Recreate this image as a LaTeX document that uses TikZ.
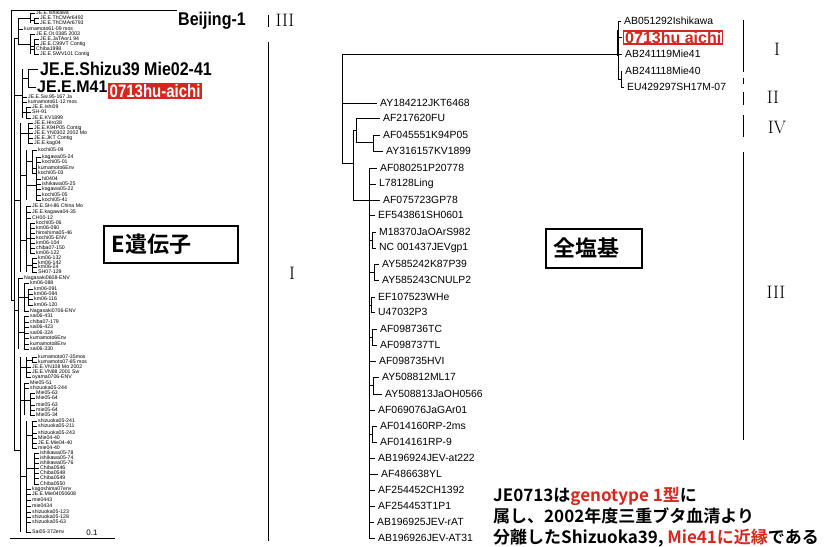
\documentclass[tikz,border=0pt]{standalone}
\usepackage{fontspec}
\newfontfamily\arial{Liberation Sans}
\newfontfamily\jpfont{Noto Sans CJK JP}[BoldFont={Noto Sans CJK JP Bold}]
\definecolor{markred}{RGB}{214,38,30}
\tikzset{
	branch/.style={line width=0.7pt},
	groupbar/.style={line width=0.9pt},
	tinylabel/.style={anchor=west, inner sep=0pt, font=\arial\fontsize{5.2}{5}\selectfont},
	leaflabel/.style={anchor=west, inner sep=0pt, font=\arial\fontsize{10.4}{12}\selectfont},
	biglabel/.style={anchor=west, inner sep=0pt, font=\arial\bfseries\fontsize{16}{18}\selectfont},
	roman/.style={inner sep=0pt, font=\fontsize{18}{20}\selectfont},
	titlebox/.style={draw, line width=1.6pt, anchor=north west, align=left, inner xsep=8pt,
		font=\jpfont\bfseries\fontsize{22}{24}\selectfont},
	notetext/.style={anchor=base west, inner sep=0pt, font=\jpfont\bfseries\fontsize{17}{20}\selectfont}
}
\begin{document}
\begin{tikzpicture}[x=1pt,y=-1pt]
	\useasboundingbox (0,0) rectangle (826,546);

	% E gene tree: vertical lines
	\foreach \x/\ya/\yb in {11/10/300, 14/38/450, 18/18/44, 30/13/23, 34/18/23, 30/34/54, 34/39/54,
			22/69/118, 28/69/87, 26/107/118, 20/123/272, 28/123/143, 26/150/200, 32/150/173, 36/157/200,
			26/206/272, 30/223/253, 32/258/272, 18/278/349, 24/283/311, 28/289/305, 24/316/349,
			20/357/532, 26/357/377, 32/357/362, 24/383/415, 30/393/415, 26/421/532, 32/421/448, 34/453/484} {
			\draw[branch] (\x,\ya) -- (\x,\yb);
		}

	% E gene tree: inner branches
	\foreach \y/\xa/\xb in {300/11/14, 38/14/18, 18/18/30, 20.5/30/34, 44/18/30, 46/30/34, 95/14/22, 78/22/28,
			112/22/26, 200/14/20, 133/20/28, 175/20/26, 161/26/32, 185/26/36, 240/20/26, 238/26/30, 265/26/32,
			310/14/18, 297/18/28, 332/18/24, 450/14/20, 367/20/26, 360/26/32, 400/20/30, 476/20/26,
			435/26/32, 468/26/34} {
			\draw[branch] (\xa,\y) -- (\xb,\y);
		}

	% E gene tree: leaves
	\foreach \y/\a/\t [count=\i] in {13/30/JE.E.Ishikawa, 18/34/JE.E.ThCMAr6492, 23/34/JE.E.ThCMAr6793,
			29/18/kumamoto61-09 mos, 34/30/JE.E.Ot.0385 2003, 39/34/JE.E.JaTAor1 94, 44/34/JE.E.C99VT Contig,
			49/30/Chiba1998, 54/34/JE.E.SWV101 Contig, 97/22/JE.E.Sw.95-167 Ja, 102/22/kumamoto61-12 mos,
			107/26/JE.E.Ishi09, 112/26/SH-91, 118/26/JE.E.KV1899, 123/28/JE.E.Hiro38, 128/28/JE.E.K94P05 Contig,
			133/28/JE.E.YN0302 2002 Mo, 138/28/JE.E.JKT Contig, 143/28/JE.E.kag04, 150/32/kochi05-09,
			157/36/kagawa05-24, 162/36/kochi05-01, 168/32/kumamoto6Env, 173/32/kochi05-03, 179/36/hi0404,
			184/36/ishikawa05-25, 189/36/kagawa05-22, 195/36/kochi05-05, 200/36/kochi05-41,
			206/26/JE.E.SH-86 China Mo, 212/26/JE.E.kagawa04-35, 218/26/CH00-12, 223/30/kochi05-06,
			228/30/km06-090, 233/30/hiroshima05-46, 238/30/kochi05-ENV, 243/30/km06-104, 248/30/chiba07-150,
			253/30/km06-122, 258/32/km06-132, 263/32/km06-142, 267/32/km06-24, 272/32/SH07-129,
			278/18/Nagasaki0608-ENV, 283/24/km06-088, 289/28/km06-091, 294/28/km06-094, 299/28/km06-116,
			305/28/km06-120, 311/24/Nagasaki0706-ENV, 316/24/sai06-431, 322/24/chiba07-179, 327/24/sai06-423,
			333/24/sai06-324, 338/24/kumamoto6Env, 344/24/kumamoto8Env, 349/24/sai06-330,
			357/32/kumamoto07-35mos, 362/32/kumamoto07-85 mos, 367/26/JE.E.VN108 Mo 2002,
			372/26/JE.E.VN88 2001 Sw, 377/26/oyama0706-ENV, 383/24/Mie05-51, 388/24/shizuoka05-244,
			393/30/Mie05-63, 398/30/Mie05-64, 405/30/mie05-63, 410/30/mie05-64, 415/30/Mie05-34,
			421/32/shizuoka05-241, 426/32/shizuoka05-211, 433/32/shizuoka05-243, 438/32/Mie04-40,
			443/32/JE.E.Mie04-40, 448/32/mie04-40, 453/34/ishikawa05-78, 458/34/ishikawa05-74,
			463/34/ishikawa05-76, 468/34/Chiba0546, 473/34/Chiba0548, 478/34/Chiba0549, 484/34/Chiba0550,
			489/26/kagoshima07env, 494/26/JE.E.Mie04050608, 500/26/mie0443, 506/26/mie0434,
			512/26/shizuoka05-123, 517/26/shizuoka05-128, 522/26/shizuoka05-63, 532/26/Sai05-372env} {
			\draw[branch] (\a,\y) -- (\a+5,\y);
			\node[tinylabel] (e\i) at (\a+6,\y) {\t};
		}

	% E gene tree: outgroup and the strains in question
	\draw[branch] (11,10) -- (177,10);
	\node[biglabel] (beijing) at (178,21) {\scalebox{1}[1.15]{Beijing-1}};
	\draw[branch] (28,69) -- (38,69);
	\draw[branch] (28,87) -- (36,87);
	\node[biglabel] (shizu) at (40,69) {\scalebox{1}[1.15]{JE.E.Shizu39 Mie02-41}};
	\node[biglabel] (m41) at (37,87) {\scalebox{1}[1.05]{JE.E.M41}};
	\node[fill=markred, text=white, anchor=west, inner xsep=1.5pt, inner ysep=1pt,
		font=\arial\bfseries\fontsize{15}{16}\selectfont] (aichiE) at (108,91) {\scalebox{1}[1.2]{0713hu-aichi}};

	% scale bar
	\draw[branch] (10,538) -- (115,538);
	\node[inner sep=0pt, font=\arial\fontsize{8}{8}\selectfont] (scale) at (92,533) {0.1};

	% E gene genotype bars
	\draw[groupbar] (268,15) -- (268,27);
	\draw[groupbar] (268,42) -- (268,541);
	\node[roman] (eIII) at (285,20) {III};
	\node[roman] (eI) at (292,273) {I};

	\node[titlebox, text width=118pt, minimum height=37pt] (ebox) at (103,225) {E遺伝子};

	% full genome tree: vertical lines
	\foreach \x/\ya/\yb in {342/54/163, 618/21/79, 621/71/87, 353/130/200, 356/118/142, 373/135/151,
			369/168/538, 372/232/248, 374/264/280, 371/297/312, 372/329/345, 373/377/394, 372/426/442} {
			\draw[branch] (\x,\ya) -- (\x,\yb);
		}
	\draw[line width=1.6pt] (618,30) -- (618,56);

	% full genome tree: inner branches
	\foreach \y/\xa/\xb in {54/342/618, 79/618/621, 163/342/353, 130/353/356, 142/356/373, 200/353/369,
			240/369/372, 272/369/374, 305/369/371, 337/369/372, 385/369/373, 434/369/372} {
			\draw[branch] (\xa,\y) -- (\xb,\y);
		}

	% full genome tree: leaves
	\foreach \y/\a/\b/\t [count=\i] in {21/618/624/AB051292Ishikawa, 54/618/625/AB241119Mie41,
			71/621/625/AB241118Mie40, 87/621/627/EU429297SH17M-07, 103/342/380/AY184212JKT6468,
			118/356/383/AF217620FU, 135/373/383/AF045551K94P05, 151/373/386/AY316157KV1899,
			168/369/380/AF080251P20778, 184/369/379/L78128Ling, 200/369/383/AF075723GP78,
			215/369/378/EF543861SH0601, 232/372/379/M18370JaOArS982, 248/372/379/NC 001437JEVgp1,
			264/374/382/AY585242K87P39, 280/374/382/AY585243CNULP2, 297/371/378/EF107523WHe,
			312/371/378/U47032P3, 329/372/380/AF098736TC, 345/372/380/AF098737TL, 361/369/379/AF098735HVI,
			377/373/382/AY508812ML17, 394/373/385/AY508813JaOH0566, 410/369/378/AF069076JaGAr01,
			426/372/380/AF014160RP-2ms, 442/372/380/AF014161RP-9, 458/369/378/AB196924JEV-at222,
			474/369/381/AF486638YL, 490/369/378/AF254452CH1392, 506/369/378/AF254453T1P1,
			522/369/377/AB196925JEV-rAT, 538/369/378/AB196926JEV-AT31} {
			\draw[branch] (\a,\y) -- (\b-3,\y);
			\node[leaflabel] (g\i) at (\b,\y) {\t};
		}

	% the new strain
	\draw[branch] (618,37) -- (622,37);
	\node[draw=markred, line width=1.4pt, text=markred, anchor=west, inner xsep=1.5pt, inner ysep=0.5pt,
		font=\arial\bfseries\fontsize{16}{17}\selectfont] (aichiG) at (623,37.5) {0713hu aichi};

	% full genome genotype bars
	\foreach \ya/\yb in {20/72, 78/84, 92/105, 115/137, 152/440} {
			\draw[groupbar] (743,\ya) -- (743,\yb);
		}
	\node[roman] (gI) at (777,49) {I};
	\node[roman] (gII) at (773,97) {II};
	\node[roman] (gIV) at (777,127) {IV};
	\node[roman] (gIII) at (776,292) {III};

	\node[titlebox, text width=80pt, minimum height=39pt] (gbox) at (545,228) {全塩基};

	% note
	\node[notetext] (note1) at (493,501) {JE0713は\textcolor{markred}{genotype 1型}に};
	\node[notetext] (note2) at (493,522) {属し、2002年度三重ブタ血清より};
	\node[notetext] (note3) at (493,543) {分離したShizuoka39, \textcolor{markred}{Mie41に近縁}である};
\end{tikzpicture}
\end{document}
